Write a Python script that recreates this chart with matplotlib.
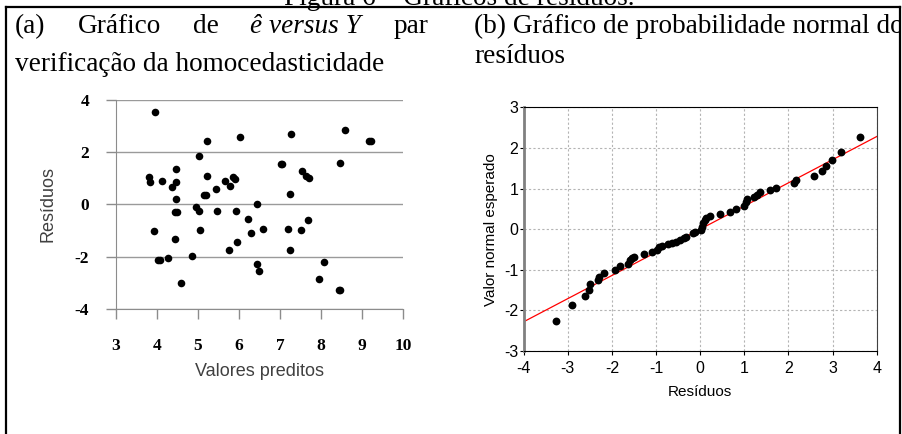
import matplotlib
matplotlib.use('Agg')
import matplotlib.pyplot as plt
from matplotlib.lines import Line2D
from matplotlib.transforms import Bbox

plt.rcParams['axes.unicode_minus'] = False

# (a) residuals vs predicted values
pred = [3.96, 3.82, 3.84, 4.14, 4.47, 4.48, 4.38, 4.47, 4.44, 4.50,
        3.93, 4.44, 4.04, 4.08, 4.27, 4.58, 4.86, 4.96, 5.04, 5.06,
        5.03, 5.22, 5.22, 5.15, 5.19, 5.45, 5.48, 5.66, 5.78, 5.85,
        5.91, 5.75, 5.93, 5.95, 6.03, 6.23, 6.29, 6.45, 6.44, 6.49,
        6.58, 7.02, 7.06, 7.26, 7.24, 7.21, 7.25, 7.51, 7.53, 7.64,
        7.72, 7.68, 7.95, 8.07, 8.46, 8.43, 8.47, 8.59, 9.17, 9.21]
res = [3.55, 1.05, 0.85, 0.90, 1.36, 0.85, 0.68, 0.22, -0.28, -0.28,
       -1.04, -1.31, -2.12, -2.12, -2.07, -3.02, -1.97, -0.09, -0.27, -0.99,
       1.84, 2.43, 1.09, 0.36, 0.36, 0.60, -0.27, 0.91, 0.69, 1.04,
       0.98, -1.76, -0.27, -1.44, 2.58, -0.57, -1.09, 0.01, -2.30, -2.56,
       -0.95, 1.55, 1.55, 2.70, 0.38, -0.95, -1.75, -0.97, 1.28, 1.09,
       1.00, -0.60, -2.86, -2.20, 1.57, -3.29, -3.29, 2.84, 2.43, 2.43]

# (b) normal probability plot
qq_res = [-3.26, -2.90, -2.62, -2.53, -2.49, -2.31, -2.30, -2.17, -1.94, -1.81,
          -1.63, -1.60, -1.54, -1.49, -1.27, -1.10, -0.98, -0.93, -0.87, -0.73,
          -0.65, -0.55, -0.46, -0.36, -0.33, -0.16, -0.12, 0.01, 0.04, 0.07,
          0.11, 0.14, 0.22, 0.45, 0.67, 0.81, 1.00, 1.04, 1.05, 1.23,
          1.28, 1.35, 1.58, 1.72, 2.13, 2.17, 2.58, 2.76, 2.85, 2.99,
          3.20, 3.62]
qq_exp = [-2.25, -1.86, -1.65, -1.50, -1.36, -1.26, -1.17, -1.07, -1.01, -0.91,
          -0.86, -0.77, -0.72, -0.68, -0.62, -0.57, -0.51, -0.45, -0.41, -0.37,
          -0.35, -0.31, -0.27, -0.23, -0.19, -0.10, -0.06, -0.02, 0.06, 0.14,
          0.23, 0.27, 0.33, 0.37, 0.43, 0.50, 0.57, 0.68, 0.74, 0.79,
          0.84, 0.91, 0.97, 1.02, 1.13, 1.21, 1.32, 1.42, 1.56, 1.71,
          1.90, 2.28]
line_x = [-4, 4]
line_y = [-2.28, 2.28]

# first line of cell (a), justified
words_a = ['(a)', 'Gráfico', 'de', 'ê versus Y', 'par']

W, H = 902, 434
fig = plt.figure(figsize=(W / 100, H / 100), dpi=100)


def fx(px):
    return px / W


def fy(py):
    return 1 - py / H


serif = 'Liberation Serif'
sans = 'Liberation Sans'
fs = 19.6
inside = Bbox([[0, 0], [899, H]])  # text stops at the right border of the table

# table frame
fig.add_artist(Line2D([fx(6), fx(6)], [fy(7), fy(H)], color='black', lw=1.6))
fig.add_artist(Line2D([fx(6), fx(900)], [fy(7), fy(7)], color='black', lw=1.6))
fig.add_artist(Line2D([fx(900), fx(900)], [fy(7), fy(H)], color='black', lw=1.6))

# caption, mostly cut off at the top (as in the source)
fig.text(fx(459), fy(5), 'Figura 6 – Gráficos de resíduos.', family=serif,
         fontsize=fs, ha='center', va='baseline')

# cell texts: justify the first line of (a) between x0 and x1
x0, x1 = 15, 428
renderer = fig.canvas.get_renderer()
texts = []
for w in words_a:
    st = 'italic' if 'versus' in w else 'normal'
    t = fig.text(0, fy(33), w, family=serif, fontsize=fs, style=st,
                 va='baseline')
    texts.append(t)
widths = [t.get_window_extent(renderer).width for t in texts]
gap = (x1 - x0 - sum(widths)) / (len(texts) - 1)
x = x0
for t, wd in zip(texts, widths):
    t.set_x(fx(x))
    x += wd + gap

fig.text(fx(15), fy(71), 'verificação da homocedasticidade', family=serif,
         fontsize=fs, va='baseline')
tb = fig.text(fx(474), fy(33), '(b) Gráfico de probabilidade normal do',
              family=serif, fontsize=fs, va='baseline')
tb.set_clip_box(inside)
tb.set_clip_on(True)
fig.text(fx(474), fy(63), 'resíduos', family=serif, fontsize=fs,
         va='baseline')

# ---- left plot (Excel style)
ax1 = fig.add_axes([fx(115.7), fy(308.7), (403 - 115.7) / W, (308.7 - 100) / H])
ax1.scatter(pred, res, s=30, color='black', linewidths=0, zorder=3)
ax1.set_xlim(3, 10)
ax1.set_ylim(-4, 4)
ax1.set_xticks(range(3, 11))
ax1.set_yticks([-4, -2, 0, 2, 4])
ax1.grid(axis='y', color='#9a9a9a', lw=1)
ax1.set_axisbelow(True)
for s in ['top', 'right']:
    ax1.spines[s].set_visible(False)
for s in ['left', 'bottom']:
    ax1.spines[s].set_color('#8c8c8c')
ax1.tick_params(axis='both', colors='#8c8c8c', length=7, width=1,
                labelcolor='black', labelsize=12.5)
ax1.tick_params(axis='y', pad=12)
ax1.tick_params(axis='x', pad=14)
for lab in ax1.get_xticklabels() + ax1.get_yticklabels():
    lab.set_fontfamily(serif)
    lab.set_fontweight('bold')
ax1.set_xlabel('Valores preditos', family=sans, fontsize=13, color='#404040')
ax1.set_ylabel('Resíduos', family=sans, fontsize=13, color='#404040')
ax1.xaxis.set_label_coords(0.5, -0.303)
ax1.yaxis.set_label_coords(-0.237, 0.5)
ax1.xaxis.label.set_va('center')
ax1.yaxis.label.set_va('center')

# ---- right plot (Statistica style)
ax2 = fig.add_axes([fx(523.7), fy(351), 353 / W, 243.7 / H])
ax2.plot(line_x, line_y, color='red', lw=0.9, zorder=2)
ax2.scatter(qq_res, qq_exp, s=32, color='black', linewidths=0, zorder=3)
ax2.set_xlim(-4, 4)
ax2.set_ylim(-3, 3)
ax2.set_xticks(range(-4, 5))
ax2.set_yticks(range(-3, 4))
ax2.grid(color='#b4b4b4', lw=0.8, ls=(0, (2, 2)))
ax2.set_axisbelow(True)
for s in ['top', 'bottom']:
    ax2.spines[s].set_color('black')
ax2.spines['left'].set_color('#808080')
ax2.spines['left'].set_linewidth(2)
ax2.spines['right'].set_color('#404040')
ax2.tick_params(axis='both', length=3, width=0.8, labelsize=11.5)
ax2.tick_params(axis='y', pad=1)
ax2.tick_params(axis='x', pad=4)
for lab in ax2.get_xticklabels() + ax2.get_yticklabels():
    lab.set_fontfamily(sans)
ax2.set_xlabel('Resíduos', family=sans, fontsize=11)
ax2.set_ylabel('Valor normal esperado', family=sans, fontsize=11)
ax2.xaxis.set_label_coords(0.5, -0.168)
ax2.yaxis.set_label_coords(-0.093, 0.5)
ax2.xaxis.label.set_va('center')
ax2.yaxis.label.set_va('center')

fig.savefig('out.png', dpi=100)
